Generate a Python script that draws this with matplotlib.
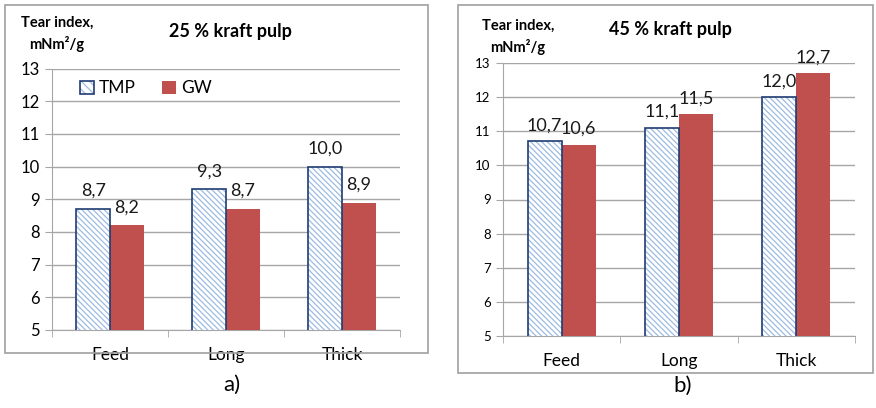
import matplotlib
matplotlib.use("Agg")
import matplotlib.pyplot as plt
import numpy as np
from matplotlib.patches import Patch, Rectangle

plt.rcParams["font.family"] = ["Lato", "DejaVu Sans"]

# data
categories = ["Feed", "Long", "Thick"]
tmp_25 = [8.7, 9.3, 10.0]
gw_25 = [8.2, 8.7, 8.9]
tmp_45 = [10.7, 11.1, 12.0]
gw_45 = [10.6, 11.5, 12.7]
titles = ["25 % kraft pulp", "45 % kraft pulp"]
panel_tags = ["a)", "b)"]
yticks = [5, 6, 7, 8, 9, 10, 11, 12, 13]

W, H = 876, 408
RED = "#C0504D"
NAVY = "#1F3C73"
HATCH_BLUE = "#9DBBE0"
GRID = "#A6A6A6"

plt.rcParams["hatch.linewidth"] = 0.9

fig = plt.figure(figsize=(W / 100, H / 100), dpi=100)


def px_axes(x0, x1, ytop, ybot):
    return fig.add_axes([x0 / W, 1 - ybot / H, (x1 - x0) / W, (ybot - ytop) / H])


def fx(x):
    return x / W


def fy(y):
    return 1 - y / H


def fmt(v):
    return f"{v:.1f}".replace(".", ",")


def draw_panel(ax, tmp, gw, tick_fs, label_fs, label_off):
    x = np.arange(len(categories))
    w = 0.29
    ax.bar(x - w / 2, tmp, w, color="white", edgecolor=HATCH_BLUE,
           hatch="\\\\\\\\\\\\", linewidth=0, zorder=3)
    ax.bar(x - w / 2, tmp, w, color="none", edgecolor=NAVY, linewidth=1.2, zorder=4)
    ax.bar(x + w / 2, gw, w, color=RED, linewidth=0, zorder=3)
    for xi, v in zip(x - w / 2, tmp):
        ax.annotate(fmt(v), (xi, v), xytext=(0, label_off), textcoords="offset points",
                    ha="center", va="center", fontsize=label_fs, color="#1a1a1a")
    for xi, v in zip(x + w / 2, gw):
        ax.annotate(fmt(v), (xi, v), xytext=(0, label_off), textcoords="offset points",
                    ha="center", va="center", fontsize=label_fs, color="#1a1a1a")
    ax.set_xlim(-0.5, len(categories) - 0.5)
    ax.set_ylim(5, 13)
    ax.set_yticks(yticks)
    ax.tick_params(axis="y", labelsize=tick_fs, length=5, color=GRID, pad=4)
    ax.set_xticks(x)
    ax.set_xticklabels(categories, fontsize=12.5)
    ax.set_xticks(np.arange(len(categories) + 1) - 0.5, minor=True)
    ax.tick_params(axis="x", which="major", length=0, pad=12)
    ax.tick_params(axis="x", which="minor", length=5, color=GRID)
    ax.grid(axis="y", color=GRID, linewidth=1, zorder=0)
    for s in ["top", "right"]:
        ax.spines[s].set_visible(False)
    for s in ["left", "bottom"]:
        ax.spines[s].set_color(GRID)
    ax.set_axisbelow(True)


# panel frames
fig.patches.append(Rectangle((fx(5), fy(353)), fx(428 - 5), (353 - 5) / H,
                             transform=fig.transFigure, fill=False,
                             edgecolor="#A0A0A0", linewidth=1.2))
fig.patches.append(Rectangle((fx(458), fy(373)), fx(873 - 458), (373 - 5) / H,
                             transform=fig.transFigure, fill=False,
                             edgecolor="#A0A0A0", linewidth=1.2))

ax1 = px_axes(52, 400, 68.6, 330)
draw_panel(ax1, tmp_25, gw_25, 12, 13, 13)
ax2 = px_axes(503, 855, 63, 336)
draw_panel(ax2, tmp_45, gw_45, 9.5, 13, 11.5)

tmp_handle = (Patch(facecolor="white", edgecolor=HATCH_BLUE, hatch="\\\\\\\\", linewidth=0),
              Patch(facecolor="none", edgecolor=NAVY, linewidth=1.2))
gw_handle = Patch(facecolor=RED, linewidth=0)
ax1.legend([tmp_handle, gw_handle], ["TMP", "GW"], ncol=2, frameon=False,
           loc="center left", bbox_to_anchor=(0.035, 0.925), fontsize=12.5,
           handlelength=0.8, handleheight=0.8, handletextpad=0.3, columnspacing=1.5)

# y-axis caption, titles and panel tags
for xc, yc, title_x, title_y, tag_x, tag_y, title, tag in [
        (57, 34, 230, 31, 232, 385, titles[0], panel_tags[0]),
        (518, 37, 670, 30, 683, 386, titles[1], panel_tags[1])]:
    fig.text(fx(xc), fy(yc), "Tear index,\nmNm²/g", ha="center", va="center",
             fontsize=10.5, fontweight="bold", linespacing=1.45)
    fig.text(fx(title_x), fy(title_y), title, ha="center", va="center",
             fontsize=13, fontweight="bold")
    fig.text(fx(tag_x), fy(tag_y), tag, ha="center", va="center", fontsize=16)

fig.savefig("out.png", dpi=100)
